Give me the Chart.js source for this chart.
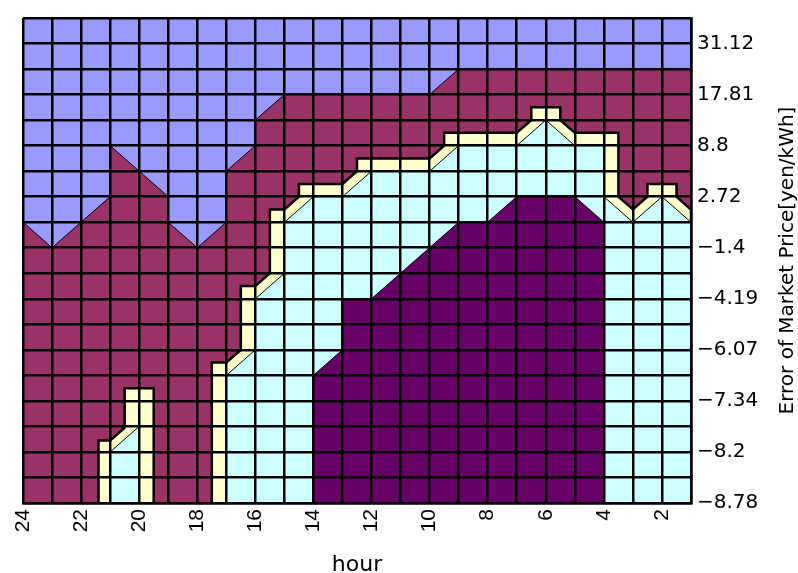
<!DOCTYPE html>
<html>
<head>
<meta charset="utf-8">
<script src="https://cdn.jsdelivr.net/npm/chart.js@4.4.1/dist/chart.umd.min.js"></script>
<style>
  html, body { margin: 0; padding: 0; background: #fff; }
</style>
</head>
<body>
<canvas id="contourChart" width="798" height="573"></canvas>
<script>
// x axis: hour, 24 on the left down to 1 on the right
const hourTicks = [24, 22, 20, 18, 16, 14, 12, 10, 8, 6, 4, 2];
// y axis: one price label every second row, bottom to top
const priceLabels = ['−8.78', '−8.2', '−7.34', '−6.07', '−4.19', '−1.4', '2.72', '8.8', '17.81', '31.12'];

// contour bands, [hour, price row]
const blueBand = [[24, 0], [24, 19], [1, 19], [1, 0]];
const maroonBand = [[24, 11], [23, 10], [22, 11], [21, 12], [21, 14], [20, 13], [19, 12], [19, 11], [18, 10],
  [17, 11], [17, 13], [16, 14], [16, 15], [15, 16], [10, 16], [9, 17], [1, 17], [1, 0], [24, 0]];
const yellowBandA = [[21.4, 0], [21.4, 2.45], [21, 2.45], [20.5, 2.95], [20.5, 4.5], [19.5, 4.5], [19.5, 0]];
const yellowBandB = [[17.5, 0], [17.5, 5.5], [17, 5.5], [16.5, 6], [16.5, 8.5], [16, 8.5], [15.5, 9], [15.5, 11.5],
  [15, 11.5], [14.5, 12], [14.5, 12.5], [13, 12.5], [12.5, 13], [12.5, 13.5], [10, 13.5], [9.5, 14], [9.5, 14.5],
  [7, 14.5], [6.5, 15], [6.5, 15.5], [5.5, 15.5], [5.5, 15], [5, 14.5], [3.5, 14.5], [3.5, 12], [3, 11.5],
  [2.5, 12], [2.5, 12.5], [1.5, 12.5], [1.5, 12], [1, 11.5], [1, 0]];
const cyanBandA = [[21, 0], [21, 2], [20, 3], [20, 0]];
const cyanBandB = [[17, 0], [17, 5], [16, 6], [16, 8], [15, 9], [15, 11], [14, 12], [13, 12], [12, 13], [10, 13],
  [9, 14], [7, 14], [6, 15], [5, 14], [4, 14], [4, 12], [3, 11], [2, 12], [1, 11], [1, 0]];
const purpleBand = [[14, 0], [14, 5], [13, 6], [13, 8], [12, 8], [11, 9], [10, 10], [9, 11], [8, 11], [7, 12],
  [5, 12], [4, 11], [4, 0]];

const layers = [
  { pts: blueBand, color: '#9999ff', edge: 0 },
  { pts: maroonBand, color: '#993366', edge: 1 },
  { pts: yellowBandA, color: '#ffffcc', edge: 2.5 },
  { pts: yellowBandB, color: '#ffffcc', edge: 2.5 },
  { pts: cyanBandA, color: '#ccffff', edge: 1 },
  { pts: cyanBandB, color: '#ccffff', edge: 1 },
  { pts: purpleBand, color: '#660066', edge: 1 }
];

const datasets = layers.map((l, i) => ({
  data: l.pts.map(p => ({ x: p[0], y: p[1] })),
  backgroundColor: l.color,
  borderColor: '#000',
  borderWidth: l.edge,
  fill: 'shape',
  pointRadius: 0,
  tension: 0,
  order: layers.length - i
}));

// the price axis title reads bottom to top on the right
const yTitle = {
  id: 'yTitle',
  afterDraw(chart) {
    const ctx = chart.ctx;
    const area = chart.chartArea;
    ctx.save();
    ctx.translate(chart.width - 5, (area.top + area.bottom) / 2);
    ctx.rotate(-Math.PI / 2);
    ctx.font = '20px "DejaVu Sans"';
    ctx.fillStyle = '#000';
    ctx.textAlign = 'center';
    ctx.textBaseline = 'alphabetic';
    ctx.fillText('Error of Market Price[yen/kWh]', 0, 0);
    ctx.restore();
  }
};

new Chart(document.getElementById('contourChart'), {
  type: 'line',
  data: { datasets: datasets },
  options: {
    responsive: false,
    animation: false,
    layout: { padding: { left: 23, top: 11, right: 0, bottom: 0 } },
    plugins: { legend: { display: false }, tooltip: { enabled: false } },
    scales: {
      x: {
        type: 'linear',
        reverse: true,
        min: 1,
        max: 24,
        afterFit: s => { s.height = 70; },
        grid: { color: '#000', lineWidth: 2.5, drawTicks: false, z: 1 },
        border: { color: '#000', width: 2.5, z: 2 },
        ticks: {
          stepSize: 1,
          autoSkip: false,
          minRotation: 90,
          maxRotation: 90,
          padding: 6,
          color: '#000',
          font: { family: "'Liberation Sans Narrow', 'Liberation Sans'", size: 21 },
          callback: v => hourTicks.includes(v) ? String(v) : ''
        },
        title: {
          display: true,
          text: 'hour',
          color: '#000',
          font: { family: 'DejaVu Sans', size: 22, lineHeight: 1 },
          padding: { top: 0, bottom: -3 }
        }
      },
      y: {
        type: 'linear',
        position: 'right',
        min: 0,
        max: 19,
        afterFit: s => { s.width = 107; },
        grid: { color: '#000', lineWidth: 2.5, drawTicks: false, z: 1 },
        border: { color: '#000', width: 2.5, z: 2 },
        ticks: {
          stepSize: 1,
          autoSkip: false,
          padding: 6,
          color: '#000',
          font: { family: 'DejaVu Sans', size: 20 },
          callback: v => v % 2 === 0 ? priceLabels[v / 2] : ''
        }
      }
    }
  },
  plugins: [yTitle]
});
</script>
</body>
</html>
